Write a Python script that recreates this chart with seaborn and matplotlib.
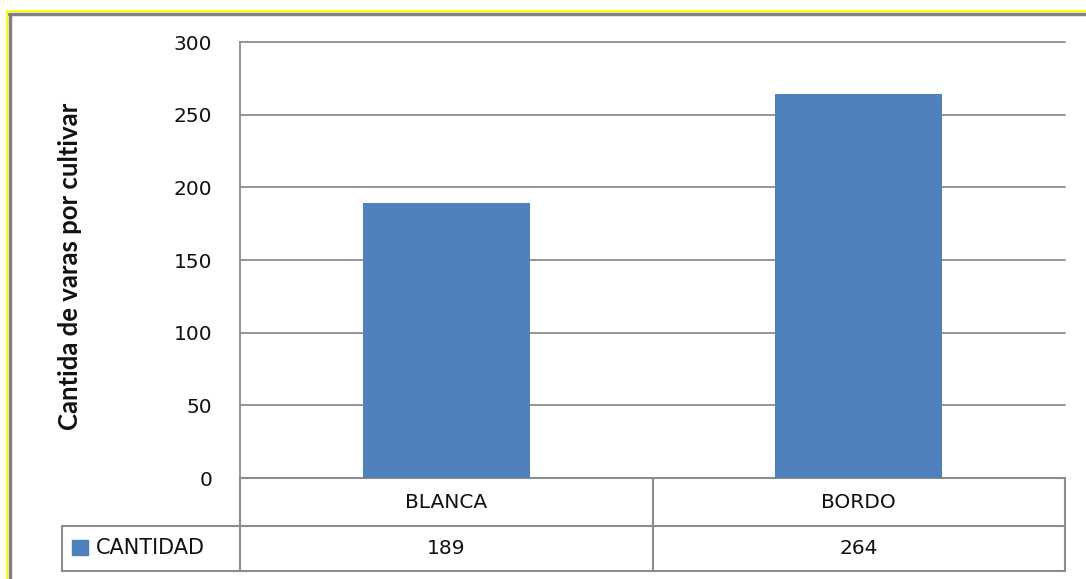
import matplotlib
matplotlib.use("Agg")
import matplotlib.pyplot as plt
import matplotlib.transforms as mtransforms
from matplotlib.lines import Line2D
from matplotlib.patches import Rectangle
import seaborn as sns
import pandas as pd

categories = ["BLANCA", "BORDO"]
values = [189, 264]
series_name = "CANTIDAD"
y_ticks = [0, 50, 100, 150, 200, 250, 300]
y_label = "Cantida de varas por cultivar"

BAR = "#4F81BD"
GRID = "#8C8C8C"
TXT = "#111111"

sns.set_theme(style="white")
plt.rcParams['font.family'] = ['DejaVu Sans']

W, H = 1086, 579
fig = plt.figure(figsize=(W / 100, H / 100), dpi=100)
fig.patch.set_facecolor("white")

def fx(px):
    return px / W

def fy(py):
    return 1 - py / H

ax = fig.add_axes([fx(240), fy(478), fx(1065) - fx(240), fy(42) - fy(478)])
df = pd.DataFrame({"cat": categories, "val": values})
sns.barplot(data=df, x="cat", y="val", color=BAR, saturation=1, width=0.405,
            edgecolor="none", linewidth=0, ax=ax, zorder=3)

ax.set_ylim(0, 300)
ax.set_xlim(-0.5, len(categories) - 0.5)
ax.set_yticks(y_ticks)
ax.set_yticklabels([str(t) for t in y_ticks], fontsize=14.5, color=TXT)
ax.tick_params(axis="y", length=0, pad=20)
ax.set_xticks([])
ax.set_xlabel("")
ax.set_ylabel("")
for t in y_ticks[1:]:
    ax.axhline(t, color=GRID, lw=1.3, zorder=0, clip_on=False)
for s in ["top", "right", "bottom"]:
    ax.spines[s].set_visible(False)
ax.spines["left"].set_color(GRID)
ax.spines["left"].set_linewidth(1.3)

# y label
fig.text(fx(70), fy(266), y_label, rotation=90, ha="center", va="center",
         fontsize=18.5, fontweight="bold", color=TXT,
         family=["Lato", "DejaVu Sans"])

# data table below axes (x in data coords, y in axes fraction)
trans = mtransforms.blended_transform_factory(ax.transData, ax.transAxes)
ax_h_px = 478 - 42
row1 = -(526 - 478) / ax_h_px
row2 = -(571 - 478) / ax_h_px
n = len(categories)
kw = dict(color=GRID, lw=1.5, transform=trans, clip_on=False)
ax.add_line(Line2D([-0.5, n - 0.5], [0, 0], **kw))
ax.add_line(Line2D([-0.5, n - 0.5], [row1, row1], **kw))
ax.add_line(Line2D([-0.5, n - 0.5], [row2, row2], **kw))
for b in range(n + 1):
    ax.add_line(Line2D([b - 0.5, b - 0.5], [0, row2], **kw))
for i, (c, v) in enumerate(zip(categories, values)):
    ax.text(i, (0 + row1) / 2, c, transform=trans, ha="center", va="center",
            fontsize=14.5, color=TXT)
    ax.text(i, (row1 + row2) / 2, str(v), transform=trans, ha="center", va="center",
            fontsize=14.5, color=TXT)

# legend cell
lc = dict(color=GRID, lw=1.5, transform=fig.transFigure)
fig.add_artist(Line2D([fx(62), fx(240)], [fy(526), fy(526)], **lc))
fig.add_artist(Line2D([fx(62), fx(240)], [fy(571), fy(571)], **lc))
fig.add_artist(Line2D([fx(62), fx(62)], [fy(526), fy(571)], **lc))
fig.add_artist(Rectangle((fx(72), fy(555)), fx(16), fy(540) - fy(555),
                         transform=fig.transFigure, color=BAR))
fig.text(fx(96), fy(548.5), series_name, ha="left", va="center",
         fontsize=15, color=TXT)

# outer frame (yellow + gray)
fig.add_artist(Line2D([fx(7), 1], [fy(11), fy(11)], color="#FFFF00", lw=1.5, transform=fig.transFigure))
fig.add_artist(Line2D([fx(9), 1], [fy(13.5), fy(13.5)], color="#808080", lw=2.5, transform=fig.transFigure))
fig.add_artist(Line2D([fx(7), fx(7)], [fy(11), 0], color="#FFFF00", lw=1.5, transform=fig.transFigure))
fig.add_artist(Line2D([fx(9.5), fx(9.5)], [fy(13.5), 0], color="#808080", lw=2.5, transform=fig.transFigure))

fig.savefig("out.png", dpi=100, facecolor="white")
